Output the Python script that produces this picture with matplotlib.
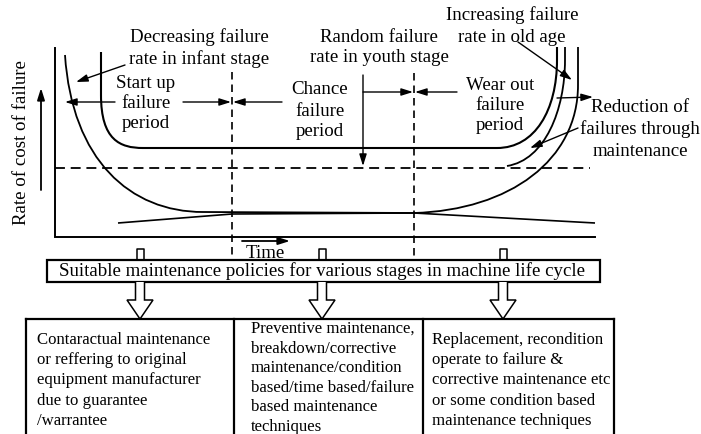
import matplotlib
matplotlib.use("Agg")
import matplotlib.pyplot as plt
from matplotlib.path import Path
from matplotlib.patches import PathPatch, Rectangle, FancyArrowPatch, Polygon

plt.rcParams['font.family'] = ['Liberation Serif', 'DejaVu Serif']

# ---- text content ----
label_infant = ["Decreasing failure", "rate in infant stage"]
label_youth = ["Random failure", "rate in youth stage"]
label_old = ["Increasing failure", "rate in old age"]
label_start = ["Start up", "failure", "period"]
label_chance = ["Chance", "failure", "period"]
label_wear = ["Wear out", "failure", "period"]
label_reduction = ["Reduction of", "failures through", "maintenance"]
y_label = "Rate of cost of failure"
x_label = "Time"
policy_title = "Suitable maintenance policies for various stages in machine life cycle"
policy_boxes = [
    ["Contaractual maintenance", "or reffering to original", "equipment manufacturer",
     "due to guarantee", "/warrantee"],
    ["Preventive maintenance,", "breakdown/corrective", "maintenance/condition",
     "based/time based/failure", "based maintenance", "techniques"],
    ["Replacement, recondition", "operate to failure &", "corrective maintenance etc",
     "or some condition based", "maintenance techniques"],
]

# ---- curve control points (pixel frame) ----
outer_curve = [(65, 55), (72, 160), (130, 212), (203, 212),   # infant decline
               (414, 213),                                      # flat
               (510, 210), (578, 160), (578, 85), (578, 47)]   # wear-out rise
upper_curve = [(101, 52), (101, 95), (101, 140), (120, 148), (143, 148),
               (497, 148),
               (535, 148), (557, 110), (557, 60), (557, 47)]
reduced_curve = [(507, 166), (545, 160), (565, 110), (565, 60), (565, 47)]
bottom_arch = [(118, 223), (232, 214), (414, 213), (595, 223)]

fig = plt.figure(figsize=(7.01, 4.34), dpi=100)
ax = fig.add_axes([0, 0, 1, 1])
ax.set_xlim(0, 701)
ax.set_ylim(434, 0)
ax.axis('off')

FS = 13.6
FS_BOX = 12.1
LC = 'black'


def add_path(pts, codes, lw=1.3):
    p = Path(pts, codes)
    ax.add_patch(PathPatch(p, facecolor='none', edgecolor=LC, lw=lw))


C4 = Path.CURVE4
L = Path.LINETO
M = Path.MOVETO
add_path(outer_curve, [M, C4, C4, C4, L, C4, C4, C4, L])
add_path(upper_curve, [M, L, C4, C4, C4, L, C4, C4, C4, L], lw=1.5)
add_path(reduced_curve, [M, C4, C4, C4, L])
add_path(bottom_arch, [M, L, L, L], lw=1.2)

# axes lines
ax.plot([55, 55, 595], [48, 237, 237], color=LC, lw=1.4, solid_joinstyle='miter')

# dashed lines
ax.plot([55, 590], [168, 168], color=LC, lw=1.3, ls=(0, (5.5, 3.2)))
ax.plot([232, 232], [72, 260], color=LC, lw=1.2, ls=(0, (4.5, 3.0)))
ax.plot([414, 414], [73, 260], color=LC, lw=1.2, ls=(0, (4.5, 3.0)))


def arrow(x0, y0, x1, y1, lw=1.0):
    ax.add_patch(FancyArrowPatch((x0, y0), (x1, y1), arrowstyle='-|>,head_length=0.7,head_width=0.22',
                                 mutation_scale=10, color=LC, lw=lw, shrinkA=0, shrinkB=0))


arrow(125, 65, 76, 82)
arrow(115, 102, 65, 102)
arrow(183, 102, 231, 102)
arrow(282, 102, 233, 102)
arrow(363, 92, 413, 92)
arrow(363, 75, 363, 166)
arrow(457, 92, 415, 92)
arrow(557, 98, 593, 97)
arrow(518, 42, 572, 80)
arrow(578, 128, 530, 148)
arrow(242, 241, 290, 241, lw=1.3)
arrow(41, 190, 41, 88, lw=1.3)


def lines(txt, cx, ys, ha='center', fs=FS):
    for t, y in zip(txt, ys):
        ax.text(cx, y, t, ha=ha, va='center', fontsize=fs)


lines(label_infant, 199, [37, 59])
lines(label_youth, 379, [37, 58])
lines(label_old, 512, [15, 37])
lines(label_start, 146, [83, 103, 124])
lines(label_chance, 320, [90, 111, 132])
lines(label_wear, 500, [85, 106, 125])
lines(label_reduction, 640, [108, 129, 152])
ax.text(265, 254, x_label, ha='center', va='center', fontsize=FS)
ax.text(22, 143, y_label, ha='center', va='center', rotation=90, fontsize=FS)

# policy box
ax.add_patch(Rectangle((47, 260), 553, 22, facecolor='white', edgecolor=LC, lw=1.6))
ax.text(322, 271, policy_title, ha='center', va='center', fontsize=FS)

# hollow arrows
arrow_cx = [140, 322, 503]
for cx in arrow_cx:
    ax.plot([cx - 3.5, cx - 3.5, cx + 3.5, cx + 3.5], [260, 249, 249, 260], color=LC, lw=1.1)
    poly = [(cx - 4.5, 282), (cx - 4.5, 300), (cx - 13, 300), (cx, 319),
            (cx + 13, 300), (cx + 4.5, 300), (cx + 4.5, 282)]
    ax.add_patch(Polygon(poly, closed=False, facecolor='white', edgecolor=LC, lw=1.1))

# bottom boxes
ax.plot([26, 26], [434, 319], color=LC, lw=1.6)
ax.plot([26, 614], [319, 319], color=LC, lw=1.6)
for x in [234, 423, 614]:
    ax.plot([x, x], [319, 434], color=LC, lw=1.6)

box_x = [37, 251, 432]
box_y0 = [340, 329, 340]
box_dy = [20.2, 19.6, 20.2]
for txt, x0, y0, dy in zip(policy_boxes, box_x, box_y0, box_dy):
    lines(txt, x0, [y0 + i * dy for i in range(len(txt))], ha='left', fs=FS_BOX)

fig.savefig('out.png', dpi=100)
